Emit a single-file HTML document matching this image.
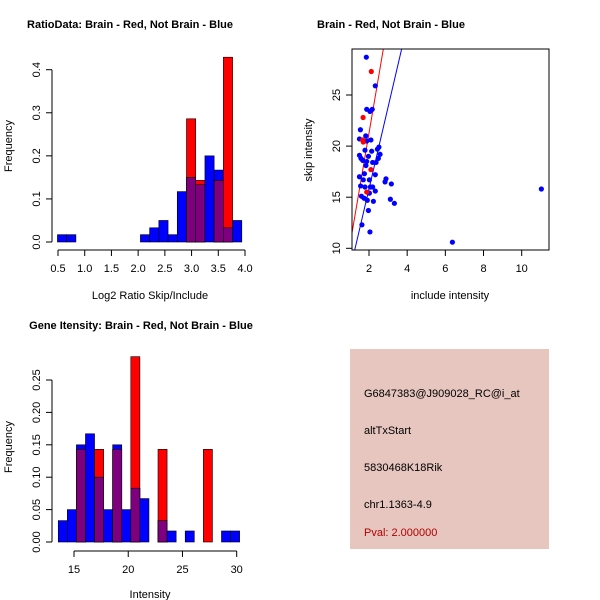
<!DOCTYPE html>
<html><head><meta charset="utf-8"><style>
body{margin:0;background:#fff}
svg{display:block;font-family:"Liberation Sans",sans-serif}
.t{font-weight:bold;font-size:11px}
.a{font-size:11px}
</style></head><body>
<svg id="c" width="600" height="600" viewBox="0 0 600 600"></svg>
<script>
// Panel 1: ratio histogram
const ratioBinStart = 0.49, ratioBinWidth = 0.1725;
const ratioBlue = [0.017,0.017,0,0,0,0,0,0,0,0.017,0.033,0.05,0.017,0.117,0.15,0.133,0.2,0.167,0.033,0.05];
const ratioRed  = [0,0,0,0,0,0,0,0,0,0,0,0,0,0,0.286,0.143,0,0.143,0.429,0];
const ratioXTicks = [0.5,1.0,1.5,2.0,2.5,3.0,3.5,4.0];
const ratioYTicks = [0.0,0.1,0.2,0.3,0.4];
// Panel 2: scatter
const blueX = [1.86,2.33,1.88,2.05,2.17,1.55,1.83,1.50,1.88,2.10,1.79,2.14,2.44,2.52,2.58,1.50,1.58,1.67,1.88,2.19,2.37,2.49,1.97,1.84,1.76,2.33,1.50,1.70,2.02,2.89,2.84,3.17,1.56,1.79,2.07,2.19,2.33,2.02,1.60,1.74,1.91,2.23,3.12,3.33,1.97,1.63,2.05,6.37,11.03];
const blueY = [28.7,25.9,23.6,23.4,23.6,21.6,21.0,20.7,20.5,20.6,19.6,19.5,19.7,19.9,19.2,19.1,18.8,18.6,18.5,18.4,18.4,18.8,19.0,18.1,17.3,17.2,17.0,16.7,16.7,16.8,16.5,16.3,16.1,16.0,16.0,16.0,15.6,15.4,15.1,14.9,14.7,14.6,14.8,14.4,13.7,12.3,11.6,10.6,15.8];
const redX = [2.12,1.69,1.67,1.70,2.10,1.88];
const redY = [27.3,22.8,20.6,20.4,17.7,15.5];
const redLine = [-0.65,10.96];   // intercept, slope
const blueLine = [-0.18,8.0];
const scatXTicks = [2,4,6,8,10];
const scatYTicks = [10,15,20,25];
// Panel 3: intensity histogram
const intBinStart = 13.55, intBinWidth = 0.836;
const intBlue = [0.033,0.05,0.15,0.167,0.1,0.05,0.15,0.05,0.083,0.067,0,0.033,0.017,0,0.017,0,0,0,0.017,0.017];
const intRed  = [0,0,0.143,0,0.143,0,0.143,0,0.286,0,0,0.143,0,0,0,0,0.143,0,0,0];
const intXTicks = [15,20,25,30];
const intYTicks = ["0.00","0.05","0.10","0.15","0.20","0.25"];

const svg=document.getElementById('c');const NS='http://www.w3.org/2000/svg';
function mk(tag,at,txt){const e=document.createElementNS(NS,tag);for(const k in at)e.setAttribute(k,at[k]);if(txt!==undefined)e.textContent=txt;svg.appendChild(e);return e;}
function lin(d0,d1,r0,r1){return v=>r0+(v-d0)*(r1-r0)/(d1-d0);}

function hist(o){
  const sx=o.sx, sy=o.sy;
  for(let i=0;i<o.blue.length;i++){
    const x0=sx(o.start+i*o.w), x1=sx(o.start+(i+1)*o.w);
    const b=o.blue[i], r=o.red[i];
    if(b>0){const e=mk('rect',{x:x0,y:sy(b),width:x1-x0,height:sy(0)-sy(b),fill:'#0000ff',stroke:'#000','stroke-width':0.6});
      
      }
    if(r>0){const e=mk('rect',{x:x0,y:sy(r),width:x1-x0,height:sy(0)-sy(r),fill:'#ff0000',stroke:'#000','stroke-width':0.6});
      
      }
    const m=Math.min(b,r);
    if(m>0){const e=mk('rect',{x:x0,y:sy(m),width:x1-x0,height:sy(0)-sy(m),fill:'#7f007f',stroke:'#000','stroke-width':0.6});
      
      }
  }
}
function xAxis(ticks,sx,y,x0,x1,name){
  const l=mk('line',{x1:sx(x0),x2:sx(x1),y1:y,y2:y,stroke:'#000'});
  
  
  ticks.forEach(t=>{const v=+t;mk('line',{x1:sx(v),x2:sx(v),y1:y,y2:y+6,stroke:'#000'});
    const e=mk('text',{x:sx(v),y:y+22,'text-anchor':'middle',class:'a'},name==='ratio'?Number(t).toFixed(1):String(t));
    
    });
}
function yAxis(ticks,sy,x,name,fmt){
  const vals=ticks.map(Number);
  const l=mk('line',{x1:x,x2:x,y1:sy(vals[0]),y2:sy(vals[vals.length-1]),stroke:'#000'});
  
  
  ticks.forEach(t=>{const v=+t;mk('line',{x1:x,x2:x-6,y1:sy(v),y2:sy(v),stroke:'#000'});
    const e=mk('text',{x:x-12,y:sy(v),'text-anchor':'middle',class:'a',transform:`rotate(-90 ${x-12} ${sy(v)})`},fmt?fmt(t):String(t));
    
    });
}
function text(x,y,s,cls,name,extra){const e=mk('text',Object.assign({x:x,y:y,'text-anchor':'middle',class:cls},extra||{}),s);
  
  return e;}

// Panel 1
{const sx=lin(0.5,4.0,58,245), sy=lin(0,0.4,242,69.7);
 hist({sx,sy,start:ratioBinStart,w:ratioBinWidth,blue:ratioBlue,red:ratioRed});
 xAxis(ratioXTicks,sx,250,0.5,4.0,'ratio');
 yAxis(ratioYTicks,sy,52,'ratio',t=>t.toFixed(1));
 text(130,28,'RatioData: Brain - Red, Not Brain - Blue','t','ratio-title');
 text(150,299,'Log2 Ratio Skip/Include','a','ratio-x-title');
 text(12,146,'Frequency','a','ratio-y-title',{transform:'rotate(-90 12 146)'});}
// Panel 2
{const sx=lin(2,10,369,521.7), sy=lin(10,25,248.3,95);
 const cp=mk('clipPath',{id:'cp'});const cr=document.createElementNS(NS,'rect');
 cr.setAttribute('x',352);cr.setAttribute('y',49);cr.setAttribute('width',197);cr.setAttribute('height',201);cp.appendChild(cr);
 const g=mk('g',{'clip-path':'url(#cp)'});
 const xs0=1.0, xs1=12;
 [[redLine,'#ff0000','red-fit-line'],[blueLine,'#0000ff','blue-fit-line']].forEach(([p,c,n])=>{
   const l=document.createElementNS(NS,'line');
   l.setAttribute('x1',sx(xs0));l.setAttribute('y1',sy(p[0]+p[1]*xs0));l.setAttribute('x2',sx(xs1));l.setAttribute('y2',sy(p[0]+p[1]*xs1));
   l.setAttribute('stroke',c);l.setAttribute('stroke-width',1);
   
   
   g.appendChild(l);});
 blueX.forEach((v,i)=>{const e=mk('circle',{cx:sx(v),cy:sy(blueY[i]),r:2.6,fill:'#0000ff'});
   
   });
 redX.forEach((v,i)=>{const e=mk('circle',{cx:sx(v),cy:sy(redY[i]),r:2.6,fill:'#ff0000'});
   
   });
 const b=mk('rect',{x:352,y:49,width:197,height:201,fill:'none',stroke:'#000'});
 
 
 scatXTicks.forEach(t=>{mk('line',{x1:sx(t),x2:sx(t),y1:250,y2:256,stroke:'#000'});
   text(sx(t),272,String(t),'a','scatter-x-tick-label');});
 scatYTicks.forEach(t=>{mk('line',{x1:352,x2:346,y1:sy(t),y2:sy(t),stroke:'#000'});
   text(340,sy(t),String(t),'a','scatter-y-tick-label',{transform:`rotate(-90 340 ${sy(t)})`});});
 text(391,28,'Brain - Red, Not Brain - Blue','t','scatter-title');
 text(450,299,'include intensity','a','scatter-x-title');
 text(312,150,'skip intensity','a','scatter-y-title',{transform:'rotate(-90 312 150)'});}
// Panel 3
{const sx=lin(15,30,74,236.7), sy=lin(0,0.25,542,380);
 hist({sx,sy,start:intBinStart,w:intBinWidth,blue:intBlue,red:intRed});
 xAxis(intXTicks,sx,551,15,30,'intensity');
 yAxis(intYTicks,sy,52,'intensity');
 text(141,329,'Gene Itensity: Brain - Red, Not Brain - Blue','t','intensity-title');
 text(150,598,'Intensity','a','intensity-x-title');
 text(12,447,'Frequency','a','intensity-y-title',{transform:'rotate(-90 12 447)'});}
// Panel 4
{const r=mk('rect',{x:350,y:349,width:199,height:200,fill:'#e6c6be'});
 
 
 const lines=['G6847383@J909028_RC@i_at','altTxStart','5830468K18Rik','chr1.1363-4.9'];
 const ys=[397,434,471,508];
 lines.forEach((s,i)=>text(364,ys[i],s,'a','info-line-'+(i+1),{'text-anchor':'start'}));
 text(364,536,'Pval: 2.000000','a','pval-text',{'text-anchor':'start',fill:'#b00000'});}
</script>
</body></html>
